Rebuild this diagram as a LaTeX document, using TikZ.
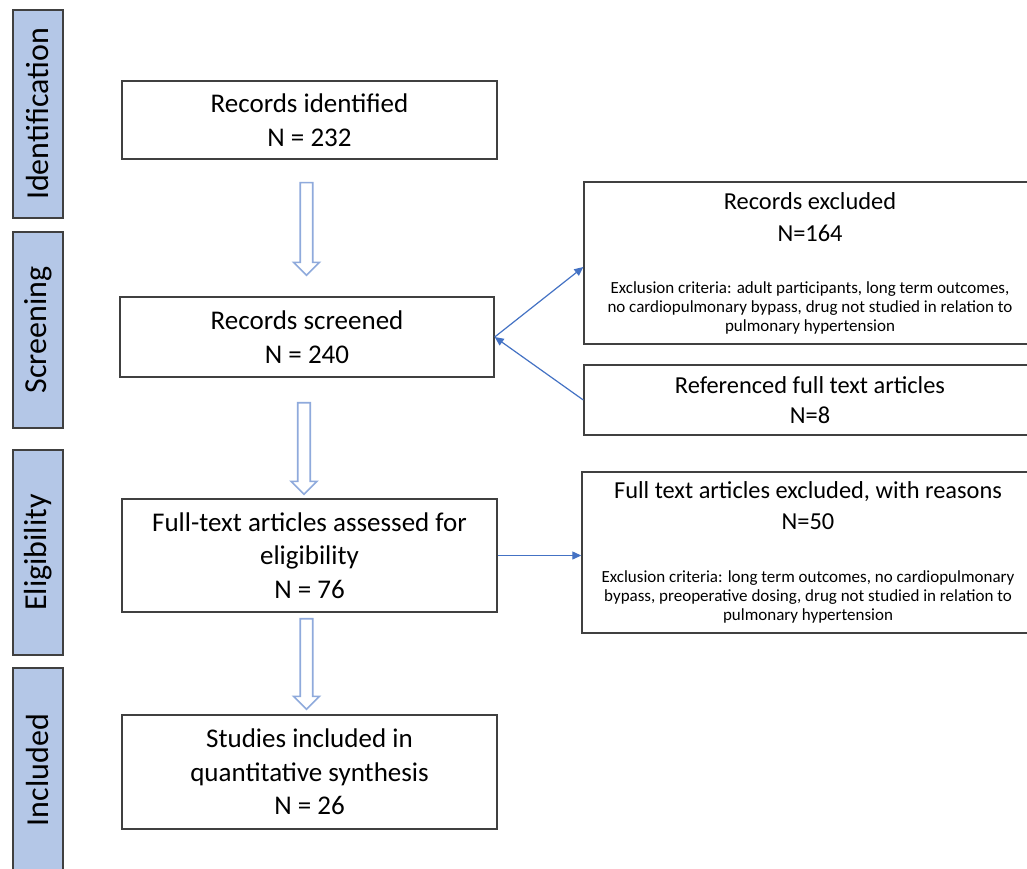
\documentclass[tikz,border=0pt]{standalone}
\usepackage{fontspec}
\setmainfont{Carlito}
\usetikzlibrary{calc,arrows.meta}
\definecolor{sidefill}{HTML}{B4C7E7}
\definecolor{boxline}{HTML}{404040}
\definecolor{connblue}{HTML}{4472C4}
\definecolor{hollowblue}{HTML}{8FAADC}
\tikzset{
 phase/.style={draw=boxline, line width=1.6pt, fill=sidefill, rotate=90, minimum height=50pt, inner sep=0pt, font=\fontsize{32}{34}\selectfont},
 mainbox/.style={draw=boxline, line width=1.4pt, fill=white, minimum width=375pt, align=center, inner sep=0pt, font=\fontsize{27}{33.5}\selectfont},
 sidebox/.style={draw=boxline, line width=1.4pt, fill=white, minimum width=452pt, inner sep=0pt},
 conn/.style={draw=connblue, line width=1.2pt, -{Triangle[length=9pt,width=8pt]}},
 harrow/.style={draw=hollowblue, line width=1.6pt, fill=white, line join=miter},
}
\newcommand\hollowarrow[4]{%
 \path[harrow] let \p1=(#1.south), \p2=(#2.north) in
 (\x1-9.25pt,\y1-#3) -- (\x1+3.25pt,\y1-#3) -- (\x1+3.25pt,\y2+#4+13pt) -- (\x1+10pt,\y2+#4+13pt)
 -- (\x1-3pt,\y2+#4) -- (\x1-16pt,\y2+#4+13pt) -- (\x1-9.25pt,\y2+#4+13pt) -- cycle;}
\begin{document}
\begin{tikzpicture}[x=1pt,y=-1pt]
\useasboundingbox (0,0) rectangle (1027,869);
\clip (0,0) rectangle (1027,869);
\fill[white] (0,0) rectangle (1027,869);

% phase labels
\node[phase, minimum width=208pt] (pid) at (38,114) {Identification};
\node[phase, minimum width=196pt] (pscr) at (38,330) {Screening};
\node[phase, minimum width=205pt] (pel) at (38,552.5) {Eligibility};
\node[phase, minimum width=204pt] (pinc) at (38,770) {Included};

% main column
\node[mainbox, minimum height=78pt] (id) at (309.5,120) {Records identified\\N = 232};
\node[mainbox, minimum width=374pt, minimum height=80pt] (scr) at (307,337) {Records screened\\N = 240};
\node[mainbox, minimum height=113pt] (ft) at (309.5,555.5) {Full-text articles assessed for\\eligibility\\N = 76};
\node[mainbox, minimum height=114pt] (inc) at (309.5,772) {Studies included in\\quantitative synthesis\\N = 26};

% right column
\node[sidebox, minimum height=162pt] (exc) at (810,263) {\begin{minipage}{440pt}\centering
{\fontsize{24.4}{32}\selectfont Records excluded\\N=164\par}
\vspace{33pt}
{\fontsize{17}{19}\selectfont Exclusion criteria: adult participants, long term outcomes,\\no cardiopulmonary bypass, drug not studied in relation to\\pulmonary hypertension\par}
\end{minipage}};
\node[sidebox, minimum height=70pt] (ref) at (810,400) {\begin{minipage}{440pt}\centering
{\fontsize{24.4}{30}\selectfont Referenced full text articles\\N=8\par}
\end{minipage}};
\node[sidebox, minimum height=161pt] (fte) at (808,552.5) {\begin{minipage}{440pt}\centering
{\fontsize{24.4}{31}\selectfont Full text articles excluded, with reasons\\N=50\par}
\vspace{34pt}
{\fontsize{17}{19}\selectfont Exclusion criteria: long term outcomes, no cardiopulmonary\\bypass, preoperative dosing, drug not studied in relation to\\pulmonary hypertension\par}
\end{minipage}};

% hollow arrows
\hollowarrow{id}{scr}{23pt}{21pt}
\hollowarrow{scr}{ft}{25pt}{4pt}
\hollowarrow{ft}{inc}{6pt}{5pt}

% connectors
\draw[conn] (scr.east) -- ($(exc.west)+(0,4)$);
\draw[conn] (ref.west) -- (scr.east);
\draw[conn] (ft.east) -- (ft.east -| fte.west);
\end{tikzpicture}
\end{document}
